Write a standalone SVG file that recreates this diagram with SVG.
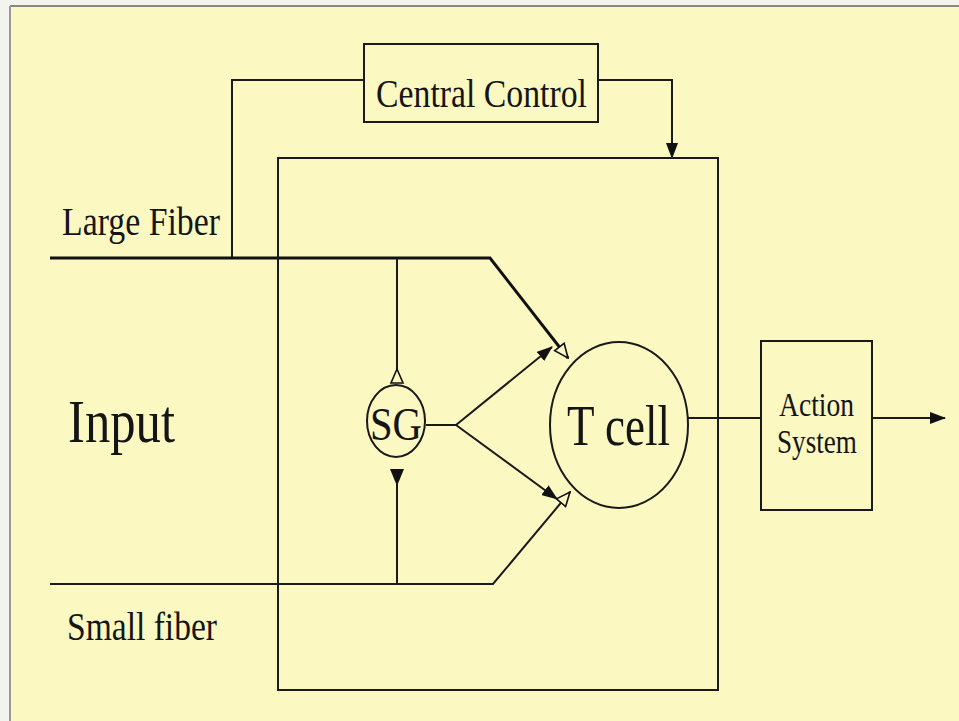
<svg xmlns="http://www.w3.org/2000/svg" width="959" height="721" viewBox="0 0 959 721">
<style>
.ln{stroke:#1a1a1a;fill:none;stroke-width:2}
.thick{stroke:#111;fill:none;stroke-width:3}
.box{stroke:#1a1a1a;fill:none;stroke-width:2}
.t{font-family:"Liberation Serif","Times New Roman",serif;fill:#151515}
.hol{fill:#fbf8c2;stroke:#111;stroke-width:1.6}
.fil{fill:#111}
</style>
<defs>
<marker id="filled" markerWidth="16" markerHeight="12" refX="15" refY="6" orient="auto" markerUnits="userSpaceOnUse">
<path d="M0,0 L16,6 L0,12 Z" fill="#111"/>
</marker>
<marker id="hollow" markerWidth="16" markerHeight="14" refX="15" refY="7" orient="auto" markerUnits="userSpaceOnUse">
<path d="M1,1 L15,7 L1,13 Z" fill="#fbf8c2" stroke="#111" stroke-width="1.6"/>
</marker>
</defs>
<rect x="0" y="0" width="959" height="721" fill="#f4f4ee"/>
<rect x="10" y="6" width="949" height="715" fill="#fbf8c2"/>
<line x1="10" y1="6" x2="959" y2="6" stroke="#888" stroke-width="2"/>
<line x1="10" y1="6" x2="10" y2="721" stroke="#999" stroke-width="2"/>

<g id="connectors">
<polyline class="ln" points="364,80 232,80 232,258"/>
<polyline class="ln" points="598,80 672,80 672,158" marker-end="url(#filled)"/>
<polyline class="thick" points="50,258 490,258 568,358" marker-end="url(#hollow)"/>
<polyline class="ln" points="50,584 493,584 570,492" marker-end="url(#hollow)"/>
<line class="ln" x1="397" y1="258" x2="397" y2="370"/>
<polygon class="hol" points="397,369 391,383 403,383"/>
<line class="ln" x1="397" y1="484" x2="397" y2="584"/>
<polygon class="fil" points="390,469 404,469 397,486"/>
<polyline class="ln" points="426,425 456,425"/>
<line class="ln" x1="456" y1="425" x2="552" y2="347" marker-end="url(#filled)"/>
<line class="ln" x1="456" y1="425" x2="557" y2="499" marker-end="url(#filled)"/>
<line class="ln" x1="688" y1="418" x2="761" y2="418"/>
<line class="ln" x1="872" y1="418" x2="945" y2="418" marker-end="url(#filled)"/>
</g>

<g id="central-control">
<rect class="box" x="364" y="44" width="234" height="78"/>
<text class="t" x="376" y="107" font-size="40" textLength="211" lengthAdjust="spacingAndGlyphs">Central Control</text>
</g>

<g id="gate-box">
<rect class="box" x="278" y="158" width="440" height="532"/>
</g>

<g id="sg">
<ellipse class="ln" cx="396" cy="421" rx="29" ry="36" fill="#fbf8c2"/>
<text class="t" x="370" y="440" font-size="46" textLength="52" lengthAdjust="spacingAndGlyphs">SG</text>
</g>

<g id="t-cell">
<ellipse class="ln" cx="619" cy="425" rx="69" ry="83" fill="#fbf8c2"/>
<text class="t" x="567" y="445" font-size="56" textLength="103" lengthAdjust="spacingAndGlyphs">T cell</text>
</g>

<g id="action-system">
<rect class="box" x="761" y="341" width="111" height="169"/>
<text class="t" x="779" y="416" font-size="34" textLength="75" lengthAdjust="spacingAndGlyphs">Action</text>
<text class="t" x="777" y="453" font-size="34" textLength="80" lengthAdjust="spacingAndGlyphs">System</text>
</g>

<g id="labels">
<text class="t" x="62" y="235" font-size="40" textLength="158" lengthAdjust="spacingAndGlyphs">Large Fiber</text>
<text class="t" x="68" y="442" font-size="62" textLength="107" lengthAdjust="spacingAndGlyphs">Input</text>
<text class="t" x="67" y="640" font-size="40" textLength="150" lengthAdjust="spacingAndGlyphs">Small fiber</text>
</g>
</svg>
